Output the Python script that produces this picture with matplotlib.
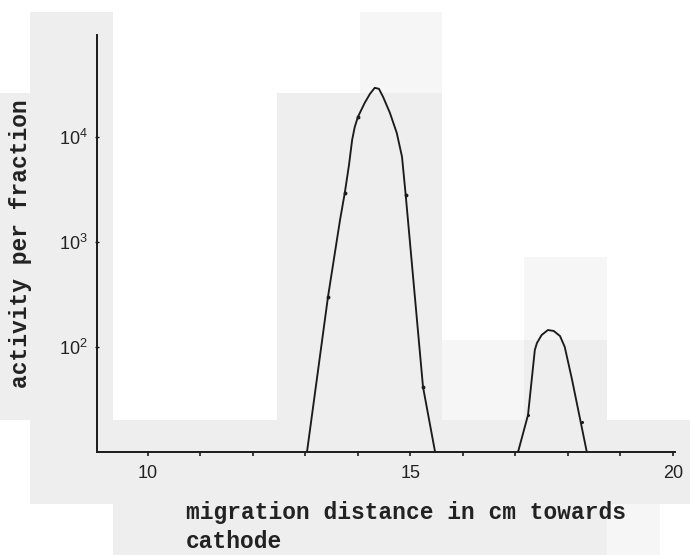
import matplotlib
matplotlib.use("Agg")
import matplotlib.pyplot as plt
from matplotlib.patches import Rectangle
from matplotlib.ticker import FixedLocator, NullLocator, NullFormatter

# ---- data: activity profile along the electrophoresis strip ----
# main peak, traced curve (migration distance in cm, activity per fraction)
peak1_x = [13.03, 13.43, 13.66, 13.75, 13.83, 13.89, 13.94, 14.00, 14.13,
           14.23, 14.32, 14.40, 14.48, 14.61, 14.74, 14.84, 14.91, 15.24, 15.47]
peak1_y = [10, 300, 1625, 2930, 5400, 9360, 12450, 15500, 21100,
           25700, 29300, 28700, 24000, 16900, 10900, 6460, 2800, 41.6, 10]
# measured fractions on the main peak
meas1_x = [13.43, 13.75, 14.00, 14.91, 15.24]
meas1_y = [300, 2930, 15500, 2800, 41.6]

# minor peak, traced curve
peak2_x = [17.05, 17.24, 17.37, 17.41, 17.50, 17.62, 17.73, 17.85, 17.94,
           18.08, 18.36]
peak2_y = [10, 22.5, 93.6, 109, 130, 145, 142, 127, 100, 48.5, 10]
# measured fractions on the minor peak
meas2_x = [17.24, 18.27]
meas2_y = [22.5, 19.3]

x_major = [10, 15, 20]
x_major_labels = ["10", "15", "20"]
x_minor = [11, 12, 13, 14, 16, 17, 18, 19]
y_ticks = [1e2, 1e3, 1e4]
y_ticklabels = [r"$\mathregular{10^{2}}$", r"$\mathregular{10^{3}}$",
                r"$\mathregular{10^{4}}$"]

x_label = "migration distance in cm towards\ncathode"
y_label = "activity per fraction"

# ---- style ----
plt.rcParams["mathtext.fontset"] = "custom"
plt.rcParams["mathtext.rm"] = "Liberation Sans"
plt.rcParams["mathtext.it"] = "Liberation Sans:italic"
plt.rcParams["mathtext.bf"] = "Liberation Sans:bold"

W, H = 690, 555
fig = plt.figure(figsize=(W / 100, H / 100), dpi=100)
fig.patch.set_facecolor("white")

# paper shading of the scanned sheet (pixel boxes: x0, top, x1, bottom)
G, L = "#eeeeee", "#f6f6f6"
shade = [
    (30, 12, 113, 504, G), (0, 93, 30, 420, G), (113, 420, 277, 504, G),
    (277, 93, 442, 504, G), (360, 12, 442, 93, L), (442, 340, 524, 420, L),
    (442, 420, 524, 504, G), (524, 257, 607, 340, L), (524, 340, 607, 504, G),
    (607, 420, 690, 504, G), (113, 504, 607, 555, G), (607, 504, 660, 555, L),
]
for x0, t, x1, b, c in shade:
    fig.add_artist(Rectangle((x0 / W, 1 - b / H), (x1 - x0) / W, (b - t) / H,
                             transform=fig.transFigure, facecolor=c,
                             edgecolor="none", zorder=-5))

ax_l, ax_r, ax_t, ax_b = 97, 675, 35, 452
ax = fig.add_axes([ax_l / W, 1 - ax_b / H, (ax_r - ax_l) / W, (ax_b - ax_t) / H])
ax.set_facecolor("none")

ink = "#1b1b1b"
ax.plot(peak1_x, peak1_y, color=ink, lw=1.35, solid_joinstyle="round")
ax.plot(peak2_x, peak2_y, color=ink, lw=1.35, solid_joinstyle="round")
ax.plot(meas1_x, meas1_y, "o", color=ink, ms=2.8, mew=0)
ax.plot(meas2_x, meas2_y, "o", color=ink, ms=2.2, mew=0)

ax.set_yscale("log")
ax.set_xlim(9.03, 20.04)
ax.set_ylim(10, 10 ** 4.97)

ax.xaxis.set_major_locator(FixedLocator(x_major))
ax.set_xticklabels(x_major_labels)
ax.xaxis.set_minor_locator(FixedLocator(x_minor))
ax.xaxis.set_minor_formatter(NullFormatter())
ax.yaxis.set_major_locator(FixedLocator(y_ticks))
ax.set_yticklabels(y_ticklabels)
ax.yaxis.set_minor_locator(NullLocator())

for s in ("top", "right"):
    ax.spines[s].set_visible(False)
for s in ("left", "bottom"):
    ax.spines[s].set_linewidth(1.4)
    ax.spines[s].set_color(ink)

ax.tick_params(axis="x", which="both", direction="out", length=3, width=1.2,
               color=ink, pad=6, labelsize=13)
ax.tick_params(axis="y", which="major", direction="inout", length=3, width=1.0,
               color=ink, pad=5, labelsize=13)
for lab in ax.get_xticklabels() + ax.get_yticklabels():
    lab.set_fontfamily("Liberation Sans")
    lab.set_color("#222222")

mono = dict(family="Liberation Mono", weight="bold", size=16.5, color="#222222")
ax.set_xlabel(x_label, ha="left", va="center", linespacing=1.35, **mono)
ax.xaxis.set_label_coords((186 - ax_l) / (ax_r - ax_l), (ax_b - 527) / (ax_b - ax_t))
ax.set_ylabel(y_label, va="center", **mono)
ax.yaxis.set_label_coords((20 - ax_l) / (ax_r - ax_l), 0.5)

fig.savefig("out.png", dpi=100)
